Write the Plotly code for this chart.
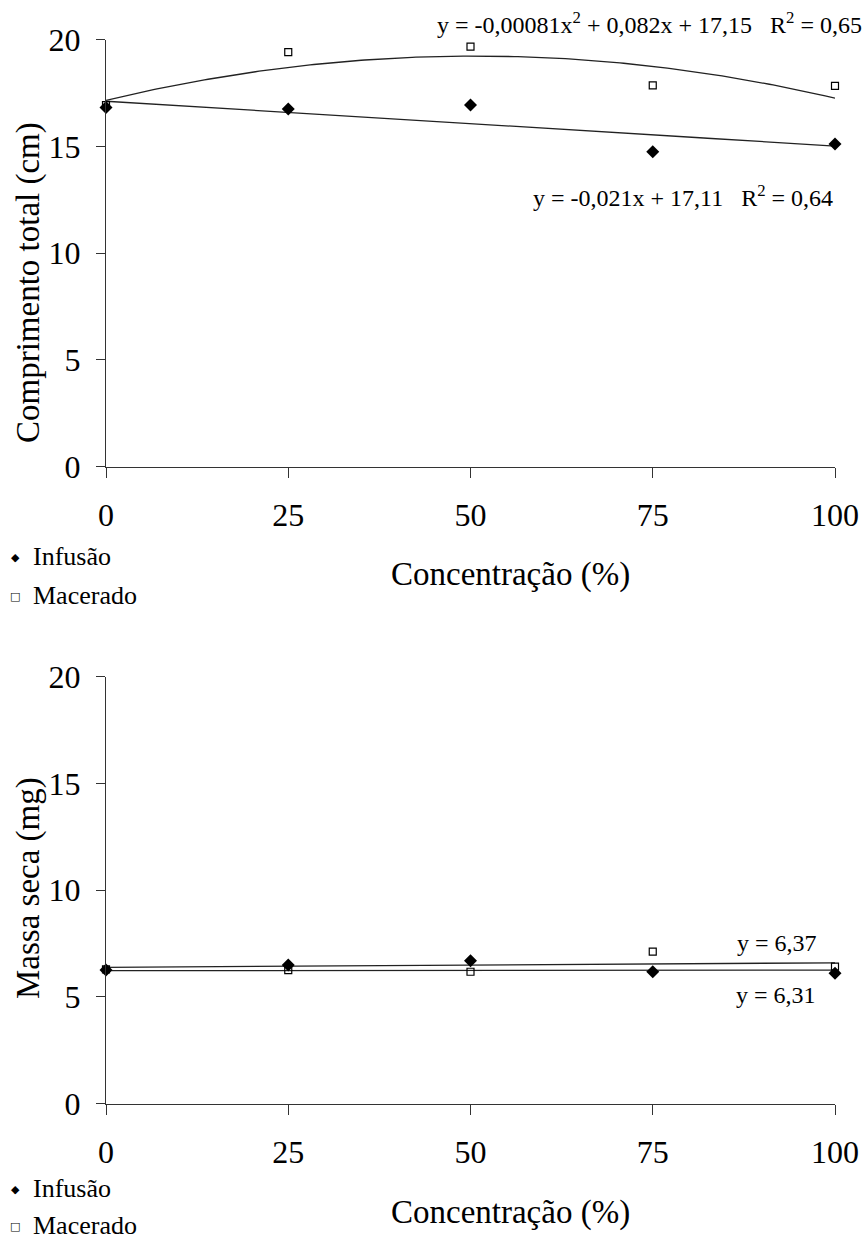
import numpy as np
import plotly.graph_objects as go

W, H = 863, 1242

# ---------------- data ----------------
conc = [0, 25, 50, 75, 100]

# top: Comprimento total (cm)
comp_infusao = [16.82, 16.75, 16.93, 14.74, 15.11]
comp_macerado = [16.93, 19.41, 19.67, 17.85, 17.83]
comp_mac_quad = [-0.00081, 0.082, 17.15]   # a x^2 + b x + c
comp_inf_lin = [-0.021, 17.11]             # m x + c

# bottom: Massa seca (mg)
massa_infusao = [6.26, 6.50, 6.70, 6.18, 6.11]
massa_macerado = [6.29, 6.26, 6.18, 7.12, 6.42]
trend_x = [0, 100]
massa_mac_trend = [6.39, 6.60]
massa_inf_trend = [6.23, 6.26]

x_ticks = [0, 25, 50, 75, 100]
y_ticks = [0, 5, 10, 15, 20]
series_names = ["Infusão", "Macerado"]
series_symbols = ["◆", "□"]

FONT = "Liberation Serif, Times New Roman, serif"
AXC = "#333333"

fig = go.Figure()

# top trend curves
xc = np.linspace(0, 100, 201)
fig.add_trace(go.Scatter(x=xc, y=np.polyval(comp_mac_quad, xc), mode="lines",
                         line=dict(color="#222222", width=1.3), showlegend=False,
                         xaxis="x", yaxis="y", hoverinfo="skip"))
fig.add_trace(go.Scatter(x=xc, y=np.polyval(comp_inf_lin, xc), mode="lines",
                         line=dict(color="#222222", width=1.3), showlegend=False,
                         xaxis="x", yaxis="y", hoverinfo="skip"))
# top points
fig.add_trace(go.Scatter(x=conc, y=comp_infusao, mode="markers", name=series_names[0],
                         marker=dict(symbol="diamond", size=10, color="black"),
                         xaxis="x", yaxis="y", showlegend=False, cliponaxis=False))
fig.add_trace(go.Scatter(x=conc, y=comp_macerado, mode="markers", name=series_names[1],
                         marker=dict(symbol="square-open", size=7, color="black",
                                     line=dict(width=1.2)),
                         xaxis="x", yaxis="y", showlegend=False, cliponaxis=False))

# bottom trend lines
fig.add_trace(go.Scatter(x=trend_x, y=massa_mac_trend, mode="lines",
                         line=dict(color="#222222", width=1.3), showlegend=False,
                         xaxis="x2", yaxis="y2", hoverinfo="skip"))
fig.add_trace(go.Scatter(x=trend_x, y=massa_inf_trend, mode="lines",
                         line=dict(color="#222222", width=1.3), showlegend=False,
                         xaxis="x2", yaxis="y2", hoverinfo="skip"))
# bottom points
fig.add_trace(go.Scatter(x=conc, y=massa_infusao, mode="markers", name=series_names[0],
                         marker=dict(symbol="diamond", size=10, color="black"),
                         xaxis="x2", yaxis="y2", showlegend=False, cliponaxis=False))
fig.add_trace(go.Scatter(x=conc, y=massa_macerado, mode="markers", name=series_names[1],
                         marker=dict(symbol="square-open", size=7, color="black",
                                     line=dict(width=1.2)),
                         xaxis="x2", yaxis="y2", showlegend=False, cliponaxis=False))

xdom = [106 / W, 835 / W]
top_dom = [1 - 466.7 / H, 1 - 39.5 / H]
bot_dom = [1 - 1103.8 / H, 1 - 676.5 / H]

xaxis_common = dict(range=[0, 100], tickvals=x_ticks, ticks="outside", ticklen=10,
                    tickwidth=1.3, tickcolor=AXC, showline=True, linecolor=AXC,
                    linewidth=1.3, showgrid=False, zeroline=False, automargin=False,
                    tickfont=dict(family=FONT, size=32, color="black"),
                    ticklabelstandoff=10, domain=xdom)
yaxis_common = dict(range=[0, 20], tickvals=y_ticks, ticks="outside", ticklen=9,
                    tickwidth=1.3, tickcolor=AXC, showline=True, linecolor=AXC,
                    linewidth=1.3, showgrid=False, zeroline=False, automargin=False,
                    tickfont=dict(family=FONT, size=32, color="black"),
                    ticklabelstandoff=9)

fig.update_layout(
    template="none",
    width=W, height=H, margin=dict(l=0, r=0, t=0, b=0, pad=0), autosize=False,
    paper_bgcolor="white", plot_bgcolor="white",
    font=dict(family=FONT, color="black"),
    showlegend=False,
    xaxis=dict(xaxis_common, anchor="y"),
    yaxis=dict(yaxis_common, domain=top_dom, anchor="x"),
    xaxis2=dict(xaxis_common, anchor="y2"),
    yaxis2=dict(yaxis_common, domain=bot_dom, anchor="x2"),
)

NB = "\u00a0"
annots = [
    dict(text="Comprimento total (cm)", x=28 / W, y=1 - 283 / H, textangle=-90,
         font=dict(size=33)),
    dict(text="Massa seca (mg)", x=28 / W, y=1 - 888 / H, textangle=-90,
         font=dict(size=33)),
    dict(text="Concentração (%)", x=510 / W, y=1 - 574 / H, font=dict(size=33)),
    dict(text="Concentração (%)", x=510 / W, y=1 - 1212 / H, font=dict(size=33)),
    dict(text=f"y = -0,00081x<sup>2</sup> + 0,082x + 17,15{NB*3}R<sup>2</sup> = 0,65",
         x=435 / W, y=1 - 23 / H, xanchor="left", font=dict(size=24)),
    dict(text=f"y = -0,021x + 17,11{NB*3}R<sup>2</sup> = 0,64",
         x=531 / W, y=1 - 196 / H, xanchor="left", font=dict(size=24)),
    dict(text="y = 6,37", x=735 / W, y=1 - 943 / H, xanchor="left", font=dict(size=24)),
    dict(text="y = 6,31", x=734 / W, y=1 - 995 / H, xanchor="left", font=dict(size=24)),
]
# legends (one under each chart)
for y0, gap in ((556, 39), (1188, 37)):
    for i, (nm, sym) in enumerate(zip(series_names, series_symbols)):
        yy = y0 + i * gap
        annots.append(dict(text=sym, x=15 / W, y=1 - (yy + 1) / H,
                           font=dict(size=11, family="DejaVu Sans")))
        annots.append(dict(text=nm, x=31 / W, y=1 - yy / H, xanchor="left",
                           font=dict(size=26)))

for a in annots:
    a.setdefault("xanchor", "center")
    f = dict(family=FONT, color="black")
    f.update(a["font"])
    a["font"] = f
    fig.add_annotation(xref="paper", yref="paper", showarrow=False, yanchor="middle", **a)

fig.write_html("out.html")
